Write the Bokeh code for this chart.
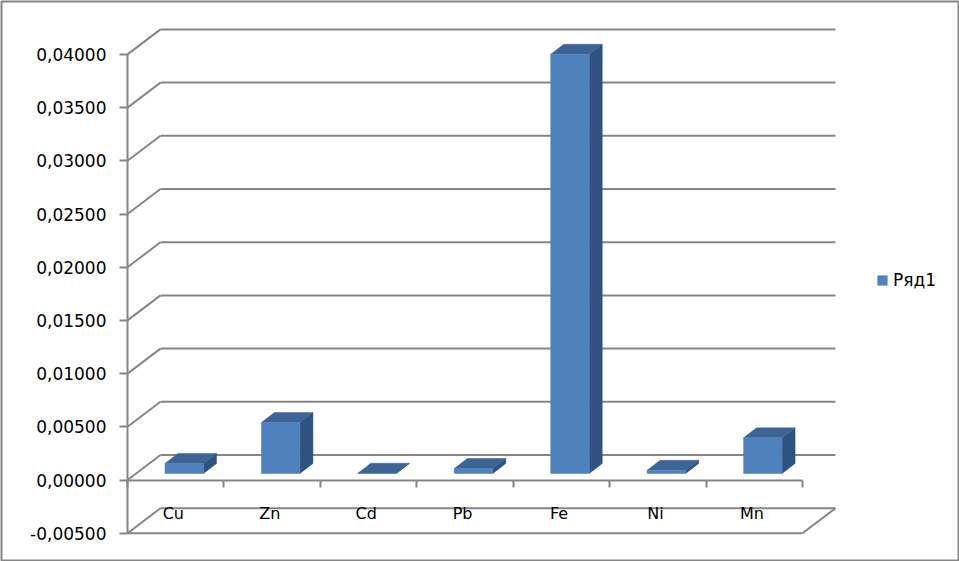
from bokeh.plotting import figure
from bokeh.models import LinearAxis, FixedTicker, Range1d
from bokeh.embed import file_html
from bokeh.resources import INLINE

categories = ["Cu", "Zn", "Cd", "Pb", "Fe", "Ni", "Mn"]
values = [0.00095, 0.0048, 0.00002, 0.00047, 0.0394, 0.0003, 0.00335]
series_name = "Ряд1"
y_ticks = [-0.005, 0.0, 0.005, 0.01, 0.015, 0.02, 0.025, 0.03, 0.035, 0.04]
y_tick_labels = ["-0,00500", "0,00000", "0,00500", "0,01000", "0,01500",
                 "0,02000", "0,02500", "0,03000", "0,03500", "0,04000"]

# scale of the drawing (pixels per data unit) and 3D depth
W, H = 959, 561
PX_X, PX_Y = 96.43, 10640.0
X0_PX, Y0_PX = 127.0, 479.5
DEPTH_X, DEPTH_Y = 33 / PX_X, 25 / PX_Y
BAR_SHIFT_X, BAR_BASE = 37.5 / PX_X, 6.5 / PX_Y
BAR_W, BAR_DX, BAR_DY = 38.5 / PX_X, 13 / PX_X, 10 / PX_Y
GREY = "#868686"
FONT = "DejaVu Sans"

p = figure(width=W, height=H, output_backend="svg", toolbar_location=None,
           min_border=1, background_fill_color="white",
           border_fill_color="white", outline_line_color=GREY, outline_line_width=2,
           x_axis_type=None, y_axis_type=None)
p.styles = {"position": "absolute", "left": "0px", "top": "0px"}
p.x_range = Range1d((1 - X0_PX) / PX_X, (W - 1 - X0_PX) / PX_X)
p.y_range = Range1d((Y0_PX - (H - 1)) / PX_Y, (Y0_PX - 1) / PX_Y)
p.grid.visible = False

n = len(categories)
# back-wall gridlines and their diagonals
p.segment(x0=[0] * len(y_ticks), y0=y_ticks, x1=[DEPTH_X] * len(y_ticks),
          y1=[v + DEPTH_Y for v in y_ticks], line_color=GREY, line_width=2)
p.segment(x0=[DEPTH_X] * len(y_ticks), y0=[v + DEPTH_Y for v in y_ticks],
          x1=[n + DEPTH_X] * len(y_ticks), y1=[v + DEPTH_Y for v in y_ticks],
          line_color=GREY, line_width=2)
# floor at the lowest tick
low = y_ticks[0]
p.segment(x0=[0, n], y0=[low, low], x1=[n, n + DEPTH_X], y1=[low, low + DEPTH_Y],
          line_color=GREY, line_width=2)

# bars
lefts = [i + BAR_SHIFT_X for i in range(n)]
rights = [x + BAR_W for x in lefts]
tops = [BAR_BASE + v for v in values]
bases = [BAR_BASE] * n
p.patches(
    xs=[[r, r + BAR_DX, r + BAR_DX, r] for r in rights],
    ys=[[b, b + BAR_DY, t + BAR_DY, t] for b, t in zip(bases, tops)],
    fill_color="#2f5280", line_color="#2f5280", line_width=0.5)
p.patches(
    xs=[[l, l + BAR_DX, r + BAR_DX, r] for l, r in zip(lefts, rights)],
    ys=[[t, t + BAR_DY, t + BAR_DY, t] for t in tops],
    fill_color="#3c6494", line_color="#3c6494", line_width=0.5)
p.quad(left=lefts, right=rights, bottom=bases, top=tops,
       fill_color="#4f81bd", line_color="#4f81bd", line_width=0.5,
       legend_label=series_name)

# axes
yax = LinearAxis(fixed_location=0, bounds=(y_ticks[0], y_ticks[-1]),
                 ticker=FixedTicker(ticks=y_ticks),
                 major_label_overrides=dict(zip(y_ticks, y_tick_labels)),
                 major_tick_in=0, major_tick_out=8, minor_tick_line_color=None,
                 major_tick_line_color=GREY, major_tick_line_width=2,
                 axis_line_color=GREY, axis_line_width=2,
                 major_label_text_font=FONT, major_label_text_font_size="17px",
                 major_label_text_color="black", major_label_standoff=13)
p.add_layout(yax, "left")

centers = [i + 0.475 for i in range(n)]
xax = LinearAxis(fixed_location=0, bounds=(0, n),
                 ticker=FixedTicker(ticks=centers, minor_ticks=list(range(n + 1))),
                 major_label_overrides=dict(zip(centers, categories)),
                 major_tick_line_color=None, major_tick_in=0, major_tick_out=0,
                 minor_tick_in=0, minor_tick_out=7,
                 minor_tick_line_color=GREY, minor_tick_line_width=2,
                 axis_line_color=GREY, axis_line_width=2,
                 major_label_standoff=17, major_label_text_font=FONT,
                 major_label_text_font_size="16px", major_label_text_color="black")
p.add_layout(xax, "below")

leg = p.legend[0]
leg.location = (875, 270)
leg.border_line_color = None
leg.background_fill_alpha = 0
leg.padding = 0
leg.margin = 0
leg.glyph_width = 12
leg.glyph_height = 12
leg.label_standoff = 5
leg.label_text_font = FONT
leg.label_text_font_size = "17px"
leg.label_text_color = "black"

open("out.html", "w").write(file_html(p, INLINE))
